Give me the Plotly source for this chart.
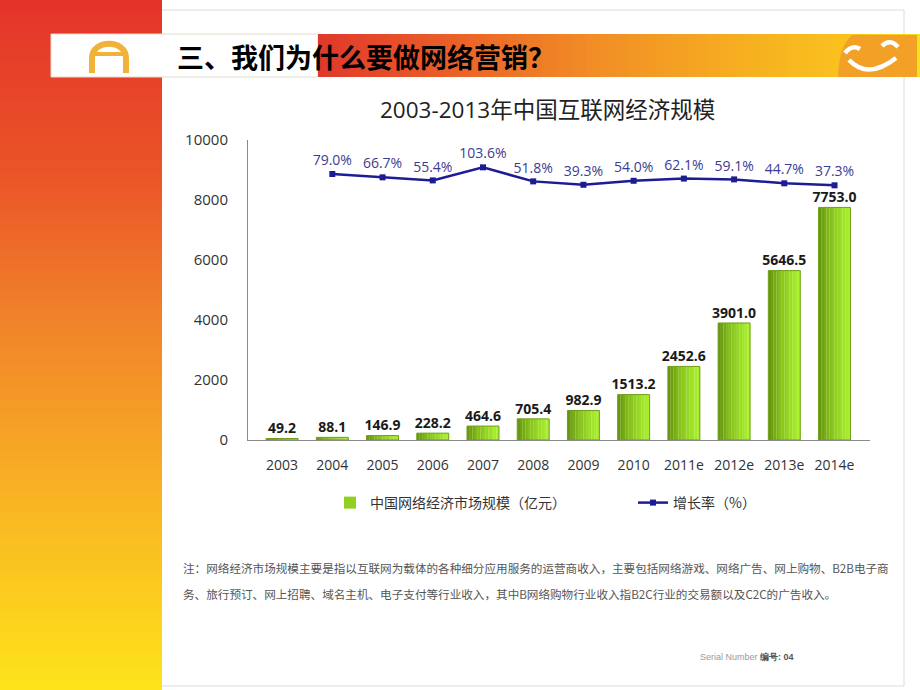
import plotly.graph_objects as go

# ---------------- data ----------------
years = ['2003', '2004', '2005', '2006', '2007', '2008', '2009', '2010',
         '2011e', '2012e', '2013e', '2014e']
market = [49.2, 88.1, 146.9, 228.2, 464.6, 705.4, 982.9, 1513.2,
          2452.6, 3901.0, 5646.5, 7753.0]
growth_years = years[1:]
growth = [79.0, 66.7, 55.4, 103.6, 51.8, 39.3, 54.0, 62.1, 59.1, 44.7, 37.3]
y_ticks = [0, 2000, 4000, 6000, 8000, 10000]
y_tick_text = ['0', '2000', '4000', '6000', '8000', '10000']

bar_name = '中国网络经济市场规模（亿元）'
line_name = '增长率（%）'
chart_title = '2003-2013年中国互联网经济规模'
slide_title = '三、我们为什么要做网络营销？'
note1 = ('注：网络经济市场规模主要是指以互联网为载体的各种细分应用服务的运营商收入，'
         '主要包括网络游戏、网络广告、网上购物、B2B电子商')
note2 = ('务、旅行预订、网上招聘、域名主机、电子支付等行业收入，其中B网络购物行业收入指'
         'B2C行业的交易额以及C2C的广告收入。')

W, H = 920, 690
NUM_FONT = 'Open Sans, Noto Sans CJK SC, sans-serif'
CJK_FONT = 'Noto Sans CJK SC, sans-serif'


def px(x):
    return x / W


def py(y):
    return 1 - y / H


def lerp_color(stops, t):
    t = max(0.0, min(1.0, t))
    for (t0, c0), (t1, c1) in zip(stops[:-1], stops[1:]):
        if t0 <= t <= t1:
            f = 0 if t1 == t0 else (t - t0) / (t1 - t0)
            c = [round(a + (b - a) * f) for a, b in zip(c0, c1)]
            return 'rgb(%d,%d,%d)' % tuple(c)
    c = stops[-1][1]
    return 'rgb(%d,%d,%d)' % tuple(c)


fig = go.Figure()

# ---------------- bars with horizontal gradient (slices) ----------------
bar_w = 0.636
n_slices = 12
grad_stops = [(0.0, (100, 146, 14)), (0.35, (132, 190, 26)), (0.8, (162, 230, 42)), (1.0, (170, 240, 48))]
for i in range(n_slices):
    sw = bar_w / n_slices
    col = lerp_color(grad_stops, (i + 0.5) / n_slices)
    fig.add_trace(go.Bar(
        x=years, y=market, width=[sw * 1.05] * len(years),
        offset=[-bar_w / 2 + i * sw] * len(years),
        marker=dict(color=col, line=dict(width=0)),
        name=bar_name, showlegend=(i == n_slices // 2),
        legendgroup='bars', hoverinfo='skip'))
# outline
fig.add_trace(go.Bar(
    x=years, y=market, width=[bar_w] * len(years), offset=[-bar_w / 2] * len(years),
    marker=dict(color='rgba(0,0,0,0)', line=dict(color='#6f9f18', width=1)),
    showlegend=False, hoverinfo='skip'))
# bar value labels
fig.add_trace(go.Scatter(
    x=years, y=market, mode='markers+text', text=['%.1f' % v for v in market],
    textposition='top center',
    marker=dict(size=1, color='rgba(0,0,0,0)'),
    textfont=dict(family=NUM_FONT, size=14, color='#1a1a1a', weight='bold'),
    showlegend=False, hoverinfo='skip'))

# ---------------- growth line ----------------
fig.add_trace(go.Scatter(
    x=growth_years, y=growth, yaxis='y2', mode='lines+markers', name=line_name,
    line=dict(color='#1c1c96', width=2.5),
    marker=dict(symbol='square', size=6, color='#1c1c96')))
fig.add_trace(go.Scatter(
    x=growth_years, y=growth, yaxis='y2', mode='markers+text',
    text=['%.1f%%' % g for g in growth], textposition='top center',
    marker=dict(size=7, color='rgba(0,0,0,0)'),
    textfont=dict(family=NUM_FONT, size=14, color='#3c3c92'),
    showlegend=False, hoverinfo='skip'))

# ---------------- decorations ----------------
shapes = []
# left strip gradient
strip_stops = [(0.0, (228, 52, 42)), (0.25, (234, 84, 40)), (0.45, (240, 128, 42)),
               (0.7, (248, 176, 36)), (1.0, (254, 228, 26))]
step = 5
for yy in range(0, H, step):
    shapes.append(dict(type='rect', xref='paper', yref='paper', x0=0, x1=px(162),
                       y0=py(yy + step + 0.5), y1=py(yy), fillcolor=lerp_color(strip_stops, (yy + step / 2) / H),
                       line=dict(width=0), layer='above'))
# frame lines
frame = '#dcdcdc'
shapes.append(dict(type='line', xref='paper', yref='paper', x0=px(162), x1=px(904), y0=py(10), y1=py(10),
                   line=dict(color=frame, width=1), layer='above'))
shapes.append(dict(type='line', xref='paper', yref='paper', x0=px(904), x1=px(904), y0=py(10), y1=py(686),
                   line=dict(color=frame, width=1), layer='above'))
shapes.append(dict(type='line', xref='paper', yref='paper', x0=px(162), x1=px(904), y0=py(686), y1=py(686),
                   line=dict(color=frame, width=1), layer='above'))
# header white part
shapes.append(dict(type='rect', xref='paper', yref='paper', x0=px(51), x1=px(318), y0=py(77), y1=py(34),
                   fillcolor='white', line=dict(color='#e6dccb', width=1), layer='above'))
# header gradient
head_stops = [(0.0, (224, 56, 44)), (0.18, (232, 88, 40)), (0.45, (241, 140, 38)),
              (0.7, (246, 174, 32)), (0.9, (250, 196, 30)), (0.97, (249, 214, 24)), (1.0, (244, 226, 28))]
hx0, hx1 = 318, 920
hs = 4
for xx in range(hx0, hx1, hs):
    shapes.append(dict(type='rect', xref='paper', yref='paper', x0=px(xx), x1=px(min(xx + hs + 0.5, hx1)),
                       y0=py(77), y1=py(34), fillcolor=lerp_color(head_stops, (xx + hs / 2 - hx0) / (hx1 - hx0)),
                       line=dict(width=0), layer='above'))


def path(cmds):
    out = []
    for c in cmds:
        if isinstance(c, str):
            out.append(c)
        else:
            out.append('%.5f,%.5f' % (px(c[0]), py(c[1])))
    return ' '.join(out)


# "A" logo
shapes.append(dict(type='path', xref='paper', yref='paper',
                   path=path(['M', (92, 73), 'L', (92, 58), 'C', (92, 39), (126, 39), (126, 58), 'L', (126, 73)]),
                   line=dict(color='#f0b238', width=6), layer='above'))
shapes.append(dict(type='path', xref='paper', yref='paper',
                   path=path(['M', (92, 54), 'L', (126, 54)]),
                   line=dict(color='#f0b238', width=4), layer='above'))
# smiley badge
shapes.append(dict(type='path', xref='paper', yref='paper',
                   path=path(['M', (852, 35), 'L', (917, 35), 'L', (917, 77), 'L', (838, 77),
                              'Q', (839, 46), (852, 35), 'Z']),
                   fillcolor='#f2a126', line=dict(width=0), layer='above'))
for cmds in (['M', (845, 53), 'Q', (852, 44), (860, 49)],
             ['M', (882, 46), 'Q', (890, 38), (898, 47)],
             ['M', (849, 60), 'Q', (868, 80), (896, 58)]):
    shapes.append(dict(type='path', xref='paper', yref='paper', path=path(cmds),
                       line=dict(color='white', width=4.5), layer='above'))

annotations = [
    dict(text='<b>' + slide_title + '</b>', x=px(175), y=py(56), xref='paper', yref='paper',
         xanchor='left', yanchor='middle', showarrow=False,
         font=dict(family=CJK_FONT, size=27, color='#000000')),
    dict(text=chart_title, x=px(547), y=py(109), xref='paper', yref='paper',
         xanchor='center', yanchor='middle', showarrow=False,
         font=dict(family=NUM_FONT, size=22.5, color='#222222')),
    dict(text=note1, x=px(181), y=py(568), xref='paper', yref='paper',
         xanchor='left', yanchor='middle', showarrow=False,
         font=dict(family=CJK_FONT, size=11.6, color='#555555')),
    dict(text=note2, x=px(181), y=py(594), xref='paper', yref='paper',
         xanchor='left', yanchor='middle', showarrow=False,
         font=dict(family=CJK_FONT, size=11.6, color='#555555')),
    dict(text='Serial Number <span style="color:#555555"><b>编号: 04</b></span>', x=px(698), y=py(657),
         xref='paper', yref='paper', xanchor='left', yanchor='middle', showarrow=False,
         font=dict(family='Liberation Sans, Arial, sans-serif', size=9, color='#9a9a9a')),
]

fig.update_layout(
    width=W, height=H,
    margin=dict(l=0, r=0, t=0, b=0, autoexpand=False),
    paper_bgcolor='white', plot_bgcolor='rgba(0,0,0,0)',
    barmode='overlay',
    showlegend=True,
    legend=dict(orientation='h', x=px(330), y=py(503), xanchor='left', yanchor='middle',
                entrywidth=258, entrywidthmode='pixels', itemwidth=30,
                font=dict(family=CJK_FONT, size=14, color='#333333'),
                bgcolor='rgba(0,0,0,0)', traceorder='normal'),
    xaxis=dict(domain=[px(248), px(870)], type='category', showgrid=False,
               showline=True, linecolor='#8a8a8a', linewidth=1,
               ticks='outside', ticklen=12, tickcolor='rgba(0,0,0,0)',
               tickfont=dict(family=NUM_FONT, size=14, color='#333333'), zeroline=False),
    yaxis=dict(domain=[py(440), py(140)], range=[0, 10000], tickvals=y_ticks, ticktext=y_tick_text,
               showgrid=False, showline=True, linecolor='#8a8a8a', linewidth=1,
               ticks='outside', ticklen=16, tickcolor='rgba(0,0,0,0)',
               tickfont=dict(family=NUM_FONT, size=15, color='#333333'), zeroline=False),
    yaxis2=dict(overlaying='y', side='right', range=[-902.5, 204.5], visible=False,
                showgrid=False, zeroline=False),
    shapes=shapes,
    annotations=annotations,
)

fig.write_html('out.html', config={'displayModeBar': False},
               post_script="document.body.style.margin='0';document.body.style.overflow='hidden';")
